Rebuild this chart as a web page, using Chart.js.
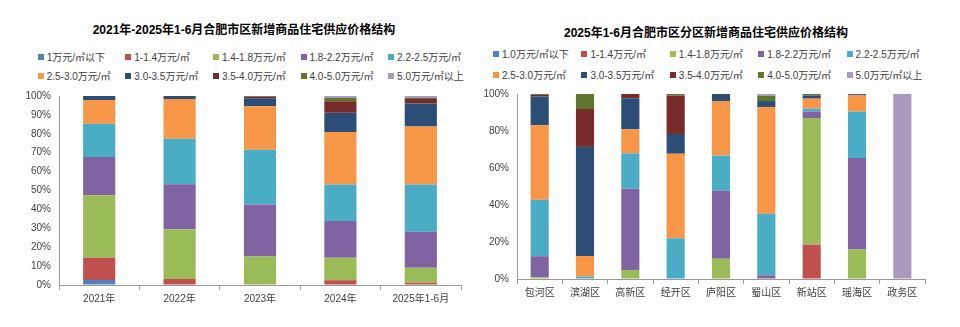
<!DOCTYPE html>
<html>
<head>
<meta charset="utf-8">
<script src="https://cdn.jsdelivr.net/npm/chart.js"></script>
<style>
  body { margin: 0; background: #fff; width: 960px; height: 327px; position: relative; overflow: hidden;
         font-family: "Liberation Sans", "Noto Sans CJK SC", sans-serif; }
  canvas { position: absolute; top: 0; }
  .title { position: absolute; font-weight: bold; font-size: 12px; color: #000; white-space: nowrap;
           transform: translate(-50%, -50%); font-family: "Liberation Sans", "Noto Sans CJK SC", sans-serif; }
  .leg { position: absolute; font-size: 10px; color: #404040; white-space: nowrap; line-height: 12px; }
  .leg i { display: inline-block; width: 6px; height: 6px; margin-right: 3px; vertical-align: 1px; }
</style>
</head>
<body>
<div class="title" style="left:244px;top:28px">2021年-2025年1-6月合肥市区新增商品住宅供应价格结构</div>
<div class="title" style="left:706px;top:31px">2025年1-6月合肥市区分区新增商品住宅供应价格结构</div>
<div id="legendLeft"></div>
<div id="legendRight"></div>
<canvas id="chartLeft" width="480" height="327" style="left:0"></canvas>
<canvas id="chartRight" width="480" height="327" style="left:480px"></canvas>
<script>
// Price bands (series)
const bandColors = ['#4F81BD', '#C0504D', '#9BBB59', '#8064A2', '#4BACC6',
                    '#F79646', '#2C4D75', '#772C2A', '#5F7530', '#A99BBD'];
const yearBandNames = ['1万元/㎡以下', '1-1.4万元/㎡', '1.4-1.8万元/㎡', '1.8-2.2万元/㎡', '2.2-2.5万元/㎡',
                       '2.5-3.0万元/㎡', '3.0-3.5万元/㎡', '3.5-4.0万元/㎡', '4.0-5.0万元/㎡', '5.0万元/㎡以上'];
const distBandNames = ['1.0万元/㎡以下', '1-1.4万元/㎡', '1.4-1.8万元/㎡', '1.8-2.2万元/㎡', '2.2-2.5万元/㎡',
                       '2.5-3.0万元/㎡', '3.0-3.5万元/㎡', '3.5-4.0万元/㎡', '4.0-5.0万元/㎡', '5.0万元/㎡以上'];

// Left chart: by year (%)
const yearCats = ['2021年', '2022年', '2023年', '2024年', '2025年1-6月'];
const yearLt10  = [2.6, 0, 0, 0, 0];
const year10_14 = [11.8, 3.2, 0.3, 2.5, 1.2];
const year14_18 = [33.1, 26.3, 14.8, 11.9, 7.9];
const year18_22 = [20.2, 23.8, 27.5, 19.5, 19.1];
const year22_25 = [17.6, 24.1, 29.0, 19.3, 25.0];
const year25_30 = [12.6, 21.0, 23.0, 27.7, 30.7];
const year30_35 = [2.1, 1.6, 4.2, 10.2, 12.1];
const year35_40 = [0, 0, 0.9, 6.1, 2.4];
const year40_50 = [0, 0, 0.3, 1.7, 0.6];
const yearGt50  = [0, 0, 0, 1.1, 1.0];
const yearTicks = [0, 10, 20, 30, 40, 50, 60, 70, 80, 90, 100];

// Right chart: by district, 2025 H1 (%)
const distCats = ['包河区', '滨湖区', '高新区', '经开区', '庐阳区', '蜀山区', '新站区', '瑶海区', '政务区'];
const distLt10  = [0, 0, 0, 0, 0, 0, 0, 0, 0];
const dist10_14 = [0, 0, 0, 0, 0, 0, 18.6, 0, 0];
const dist14_18 = [0.9, 0, 4.9, 0, 11.0, 0, 68.4, 15.9, 0];
const dist18_22 = [11.4, 0, 43.9, 0, 36.7, 2.0, 3.5, 49.5, 0];
const dist22_25 = [30.6, 1.3, 19.1, 22.0, 19.0, 33.3, 1.6, 25.1, 0];
const dist25_30 = [40.2, 11.1, 13.0, 45.7, 29.5, 57.7, 5.4, 9.0, 0];
const dist30_35 = [15.5, 59.0, 16.8, 10.7, 3.8, 3.2, 1.6, 0.5, 0];
const dist35_40 = [0.9, 20.5, 2.3, 20.7, 0, 0, 0, 0, 0];
const dist40_50 = [0.5, 8.1, 0, 0.9, 0, 2.9, 0.9, 0, 0];
const distGt50  = [0, 0, 0, 0, 0, 0.9, 0, 0, 100];
const distTicks = [0, 20, 40, 60, 80, 100];

const yearSeries = [yearLt10, year10_14, year14_18, year18_22, year22_25,
                    year25_30, year30_35, year35_40, year40_50, yearGt50];
const distSeries = [distLt10, dist10_14, dist14_18, dist18_22, dist22_25,
                    dist25_30, dist30_35, dist35_40, dist40_50, distGt50];

const axisColor = '#9a9a9a';
const tickColor = '#404040';
const tickFont = { size: 10, family: '"Liberation Sans", "Noto Sans CJK SC", sans-serif' };

// HTML legends in an Excel-like grid
function buildLegend(el, names, x0, dx, rowsY) {
    names.forEach((name, i) => {
        const d = document.createElement('div');
        d.className = 'leg';
        d.style.left = (x0 + dx * (i % 5)) + 'px';
        d.style.top = (rowsY[Math.floor(i / 5)] - 6) + 'px';
        d.innerHTML = `<i style="background:${bandColors[i]}"></i>${name}`;
        el.appendChild(d);
    });
}
buildLegend(document.getElementById('legendLeft'), yearBandNames, 37.7, 87.6, [58, 77]);
buildLegend(document.getElementById('legendRight'), distBandNames, 493, 88.4, [55, 76]);

function makeChart(id, cats, series, names, ticks, step, pad, yWidth, xHeight) {
    new Chart(document.getElementById(id), {
        type: 'bar',
        data: {
            labels: cats,
            datasets: series.map((vals, i) => ({
                label: names[i],
                data: vals,
                backgroundColor: bandColors[i],
                borderWidth: 0,
                categoryPercentage: 1,
                barPercentage: 0.4
            }))
        },
        options: {
            responsive: false,
            animation: false,
            layout: { padding: pad, autoPadding: false },
            plugins: { legend: { display: false }, title: { display: false }, tooltip: { enabled: false } },
            scales: {
                x: {
                    stacked: true,
                    grid: { offset: true, drawOnChartArea: false, tickLength: 5, color: axisColor },
                    border: { color: axisColor },
                    ticks: { color: tickColor, font: tickFont, padding: 3, maxRotation: 0 },
                    afterFit: s => { s.height = xHeight; }
                },
                y: {
                    stacked: true,
                    min: 0,
                    max: 100,
                    afterBuildTicks: s => { s.ticks = ticks.map(v => ({ value: v })); },
                    ticks: { stepSize: step, color: tickColor, font: tickFont, padding: 8, callback: v => v + '%' },
                    grid: { drawOnChartArea: false, drawTicks: false },
                    border: { color: axisColor },
                    afterFit: s => { s.width = yWidth; }
                }
            }
        }
    });
}

makeChart('chartLeft', yearCats, yearSeries, yearBandNames, yearTicks, 10,
          { left: 0, right: 19, top: 96, bottom: 0 }, 59, 42);
makeChart('chartRight', distCats, distSeries, distBandNames, distTicks, 20,
          { left: 0, right: 35, top: 94, bottom: 0 }, 37, 48);
</script>
</body>
</html>
